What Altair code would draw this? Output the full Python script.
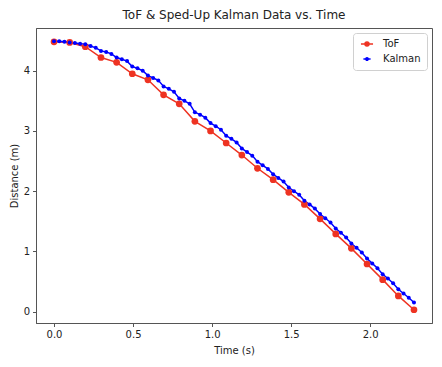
import altair as alt
import pandas as pd

# ToF measurements
tof_time = [0.0, 0.099, 0.198, 0.297, 0.396, 0.495, 0.594, 0.693, 0.792, 0.891,
            0.990, 1.089, 1.188, 1.287, 1.386, 1.485, 1.584, 1.683, 1.782, 1.881,
            1.980, 2.079, 2.178, 2.277]
tof_dist = [4.48, 4.47, 4.40, 4.22, 4.14, 3.95, 3.85, 3.60, 3.45, 3.16,
            3.00, 2.80, 2.60, 2.38, 2.19, 1.98, 1.78, 1.54, 1.29, 1.05,
            0.79, 0.53, 0.26, 0.03]

# Kalman estimates (sped-up, ~30 Hz)
kal_time = [0.000, 0.033, 0.066, 0.099, 0.132, 0.165, 0.198, 0.231, 0.264, 0.297,
            0.330, 0.363, 0.396, 0.429, 0.462, 0.495, 0.528, 0.561, 0.594, 0.627,
            0.660, 0.693, 0.726, 0.759, 0.792, 0.825, 0.858, 0.891, 0.924, 0.957,
            0.990, 1.023, 1.056, 1.089, 1.122, 1.155, 1.188, 1.221, 1.254, 1.287,
            1.320, 1.353, 1.386, 1.419, 1.452, 1.485, 1.518, 1.551, 1.584, 1.617,
            1.650, 1.683, 1.716, 1.749, 1.782, 1.815, 1.848, 1.881, 1.914, 1.947,
            1.980, 2.013, 2.046, 2.079, 2.112, 2.145, 2.178, 2.211, 2.244, 2.277]
kal_dist = [4.49, 4.49, 4.48, 4.47, 4.46, 4.45, 4.44, 4.41, 4.38, 4.33,
            4.31, 4.28, 4.22, 4.19, 4.16, 4.07, 4.04, 4.00, 3.92, 3.88,
            3.84, 3.74, 3.70, 3.65, 3.54, 3.50, 3.45, 3.31, 3.27, 3.22,
            3.13, 3.08, 3.02, 2.92, 2.87, 2.81, 2.71, 2.65, 2.59, 2.49,
            2.43, 2.37, 2.28, 2.22, 2.16, 2.06, 2.00, 1.94, 1.84, 1.78,
            1.71, 1.62, 1.55, 1.48, 1.38, 1.31, 1.23, 1.13, 1.06, 0.98,
            0.88, 0.80, 0.72, 0.62, 0.55, 0.47, 0.37, 0.30, 0.23, 0.15]

series_names = ["ToF", "Kalman"]
series_colors = ["#ee3322", "#0000ff"]
x_ticks = [0.0, 0.5, 1.0, 1.5, 2.0]
y_ticks = [0, 1, 2, 3, 4]

df = pd.concat([
    pd.DataFrame({"t": tof_time, "d": tof_dist, "series": "ToF", "order": range(len(tof_time))}),
    pd.DataFrame({"t": kal_time, "d": kal_dist, "series": "Kalman", "order": range(len(kal_time))}),
])

FONT = "DejaVu Sans"
legend_path = "M-1.8,0H1.8M-0.6,0A0.6,0.6,0,1,1,0.6,0A0.6,0.6,0,1,1,-0.6,0Z"

x = alt.X("t:Q", title="Time (s)",
          scale=alt.Scale(domain=[-0.114, 2.391], nice=False, zero=False),
          axis=alt.Axis(values=x_ticks, format=".1f", grid=False, tickSize=3.5,
                        labelPadding=3, titlePadding=6))
y = alt.Y("d:Q", title="Distance (m)",
          scale=alt.Scale(domain=[-0.19, 4.71], nice=False, zero=False),
          axis=alt.Axis(values=y_ticks, format="d", grid=False, tickSize=3.5,
                        labelPadding=3, titlePadding=4))

color_scale = alt.Scale(domain=series_names, range=series_colors)
legend = alt.Legend(title=None, orient="top-right", offset=5,
                    symbolType=legend_path, symbolSize=169, symbolStrokeWidth=1.5,
                    symbolOffset=3, labelOffset=11, rowPadding=4, padding=6,
                    strokeColor="#d0d0d0", fillColor="white", cornerRadius=3,
                    labelFontSize=10, labelFont=FONT, labelColor="#222")

base = alt.Chart(df)

lines = base.mark_line(strokeWidth=1.5).encode(
    x=x, y=y,
    stroke=alt.Stroke("series:N", scale=color_scale, legend=legend),
    detail="series:N",
    order="order:Q",
)

points = base.mark_point(filled=True, opacity=1, strokeWidth=0).encode(
    x=x, y=y,
    fill=alt.Fill("series:N", scale=color_scale, legend=legend),
    size=alt.Size("series:N", scale=alt.Scale(domain=series_names, range=[45, 16]), legend=None),
)

chart = alt.layer(lines, points).properties(
    width=396, height=295,
    title=alt.TitleParams("ToF & Sped-Up Kalman Data vs. Time", fontSize=12,
                          font=FONT, fontWeight="normal", color="#222", offset=6),
    autosize=alt.AutoSizeParams(type="none"),
    padding={"left": 28, "top": 20, "right": 2, "bottom": 36},
).configure_view(
    stroke="#555", strokeWidth=1
).configure_axis(
    domainColor="#555", tickColor="#555", labelColor="#222", titleColor="#222",
    labelFont=FONT, titleFont=FONT, labelFontSize=10, titleFontSize=10,
    titleFontWeight="normal", domainWidth=1, tickWidth=1
)

chart.save("out.html", embed_options={"renderer": "svg", "actions": False})
